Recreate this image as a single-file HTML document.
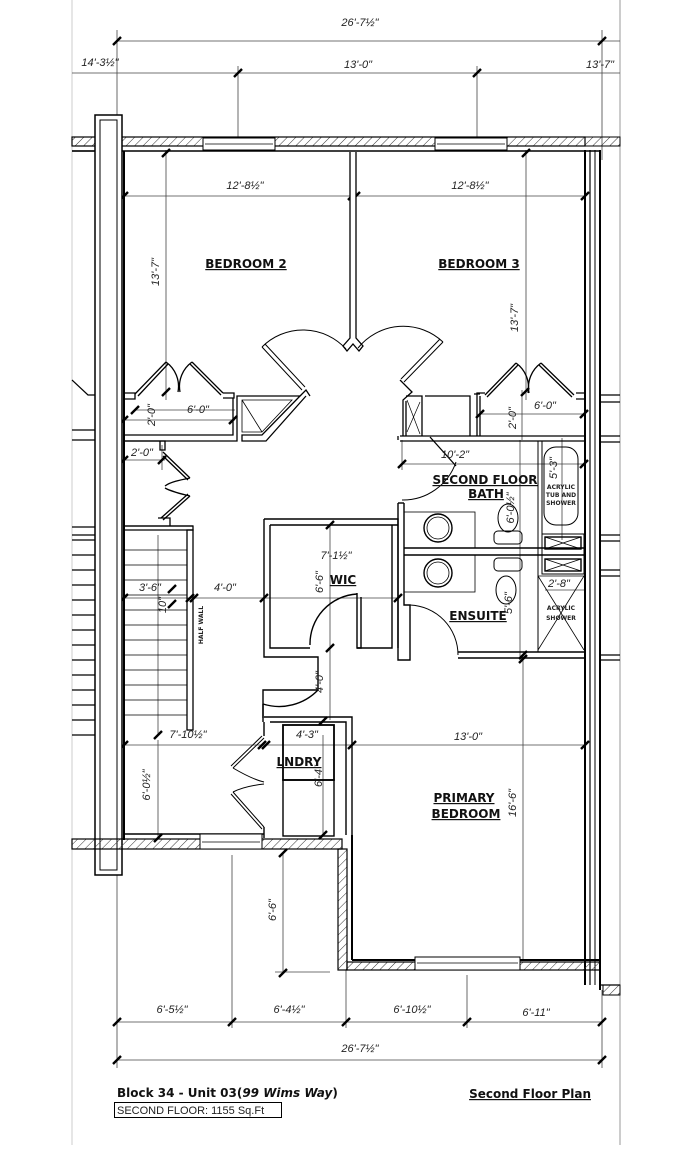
<!DOCTYPE html>
<html><head><meta charset="utf-8"><style>
html,body{margin:0;padding:0;background:#fff;}
svg{display:block;}
.d{font-family:"Liberation Sans",sans-serif;font-style:italic;font-size:11px;fill:#222;text-anchor:middle;}
.r{font-family:"DejaVu Sans","Liberation Sans",sans-serif;font-weight:bold;font-size:12px;fill:#111;text-anchor:middle;text-decoration:underline;}
.s{font-family:"DejaVu Sans","Liberation Sans",sans-serif;font-weight:bold;font-size:6px;fill:#222;text-anchor:middle;}
</style></head><body>
<svg width="698" height="1158" viewBox="0 0 698 1158" xmlns="http://www.w3.org/2000/svg">
<defs>
<pattern id="h" width="6" height="6" patternUnits="userSpaceOnUse" patternTransform="rotate(45)">
<line x1="0" y1="0" x2="0" y2="6" stroke="#333" stroke-width="1"/></pattern>
</defs>
<rect width="698" height="1158" fill="#fff"/>
<!-- page borders -->
<line x1="72" y1="0" x2="72" y2="1145" stroke="#ccc" stroke-width="1"/>
<line x1="620" y1="0" x2="620" y2="1145" stroke="#999" stroke-width="1"/>

<g stroke="#444" stroke-width="0.8" fill="none">
<!-- top dims -->
<line x1="117" y1="41" x2="620" y2="41"/>
<line x1="117" y1="30" x2="117" y2="150"/><line x1="602" y1="30" x2="602" y2="160"/>
<line x1="72" y1="73" x2="620" y2="73"/>
<line x1="238" y1="66" x2="238" y2="137"/><line x1="477" y1="66" x2="477" y2="137"/>
<!-- bedroom dims -->
<line x1="124" y1="196" x2="585" y2="196"/>
<line x1="166" y1="150" x2="166" y2="400"/>
<line x1="526" y1="150" x2="526" y2="400"/>
<line x1="135" y1="410" x2="235" y2="410"/><line x1="124" y1="420" x2="235" y2="420"/>
<line x1="480" y1="414" x2="584" y2="414"/><line x1="522" y1="390" x2="522" y2="440"/>
<line x1="124" y1="460" x2="165" y2="460"/><line x1="162" y1="445" x2="162" y2="470"/>
<!-- middle -->
<line x1="124" y1="598" x2="398" y2="598"/>
<line x1="158" y1="535" x2="158" y2="735"/>
<line x1="330" y1="525" x2="330" y2="720"/>
<line x1="402" y1="464" x2="584" y2="464"/>
<line x1="402" y1="440" x2="402" y2="470"/>
<line x1="520" y1="440" x2="520" y2="660"/>
<line x1="562" y1="438" x2="562" y2="540"/>
<line x1="545" y1="590" x2="584" y2="590"/>
<!-- lower -->
<line x1="124" y1="745" x2="585" y2="745"/>
<line x1="158" y1="740" x2="158" y2="838"/>
<line x1="523" y1="655" x2="523" y2="960"/>
<line x1="323" y1="735" x2="323" y2="835"/>
<line x1="283" y1="853" x2="283" y2="972"/><line x1="275" y1="972" x2="330" y2="972"/>
<!-- bottom dims -->
<line x1="117" y1="1022" x2="602" y2="1022"/>
<line x1="117" y1="1060" x2="602" y2="1060"/>
<line x1="117" y1="870" x2="117" y2="1068"/><line x1="602" y1="990" x2="602" y2="1068"/>
<line x1="232" y1="855" x2="232" y2="1028"/><line x1="346" y1="970" x2="346" y2="1028"/>
<line x1="467" y1="975" x2="467" y2="1028"/>
</g>
<!-- ticks -->
<g stroke="#000" stroke-width="2.4">
<path d="M113 45L121 37M598 45L606 37M234 77L242 69M473 77L481 69
M120 200L128 192M348 200L356 192M352 200L360 192M581 200L589 192
M162 157L170 149M522 157L530 149M162 396L170 388M521 396L529 388
M131 414L139 406M229 424L237 416M120 424L128 416M476 418L484 410M580 418L588 410
M120 464L128 456M158 464L166 456
M120 602L128 594M186 602L194 594M190 602L198 594M260 602L268 594M394 602L402 594
M326 529L334 521M326 652L334 644M398 468L406 460M580 468L588 460
M120 749L128 741M258 749L266 741M262 749L270 741M348 749L356 741M581 749L589 741
M154 739L162 731M154 842L162 834M519 659L527 651M519 663L527 655
M279 857L287 849M279 977L287 969M319 725L327 717M319 839L327 831
M113 1026L121 1018M228 1026L236 1018M342 1026L350 1018M463 1026L471 1018M598 1026L606 1018
M113 1064L121 1056M598 1064L606 1056
M168 608L176 600M168 593L176 585"/>
</g>

<!-- top exterior wall -->
<rect x="72" y="137" width="513" height="9" fill="url(#h)" stroke="#000" stroke-width="1.2"/>
<line x1="72" y1="151" x2="600" y2="151" stroke="#000" stroke-width="1.5"/>
<rect x="203" y="138" width="72" height="12" fill="#fff" stroke="#000" stroke-width="1"/>
<line x1="205" y1="144" x2="273" y2="144" stroke="#000" stroke-width="0.8"/>
<rect x="435" y="138" width="72" height="12" fill="#fff" stroke="#000" stroke-width="1"/>
<line x1="437" y1="144" x2="505" y2="144" stroke="#000" stroke-width="0.8"/>
<rect x="585" y="137" width="35" height="9" fill="url(#h)" stroke="#000" stroke-width="1"/>

<!-- left column -->
<rect x="95" y="115" width="27" height="760" fill="#fff" stroke="#000" stroke-width="1.5"/>
<rect x="100" y="120" width="17" height="750" fill="none" stroke="#000" stroke-width="1"/>
<line x1="124" y1="151" x2="124" y2="840" stroke="#000" stroke-width="2"/>
<g stroke="#000" stroke-width="1.2" fill="none">
<path d="M72 151H95M72 430H95M72 440H95M72 527H95M72 535H95M72 380L88 395H95"/>
<path d="M72 540H95M72 555H95M72 570H95M72 585H95M72 600H95M72 615H95M72 630H95M72 645H95M72 660H95M72 675H95M72 690H95M72 705H95M72 720H95M72 735H95"/>
</g>

<!-- right wall -->
<g stroke="#000" fill="none">
<line x1="585" y1="150" x2="585" y2="985" stroke-width="2"/>
<line x1="590" y1="150" x2="590" y2="985" stroke-width="1.2"/>
<line x1="595" y1="150" x2="595" y2="985" stroke-width="1"/>
<line x1="600" y1="150" x2="600" y2="990" stroke-width="2"/>
<path d="M600 395H620M600 402H620M600 436H620M600 442H620M600 535H620M600 541H620M600 570H620M600 576H620M600 655H620M600 660H620M600 985H620" stroke-width="1.2"/>
<rect x="603" y="985" width="17" height="10" fill="url(#h)" stroke-width="1"/>
</g>

<!-- bedroom divider -->
<path d="M350 152V338L343 346L347 351L353 344L359 351L363 346L356 338V152" fill="#fff" stroke="#000" stroke-width="1.3"/>
<!-- bedroom doors -->
<g stroke="#000" stroke-width="1" fill="none">
<path d="M262 347L302 390M265 344L305 387"/>
<path d="M262 347A58 58 0 0 1 346 349"/>
<path d="M443 342L404 382M440 339L401 379"/>
<path d="M443 342A58 58 0 0 0 358 348"/>
</g>

<!-- bed2 closet -->
<g stroke="#000" stroke-width="1.3" fill="none">
<path d="M124 393H135V399H124"/>
<path d="M135 394L166 362M138 396L168 364"/>
<path d="M166 362A30 30 0 0 1 178 392"/>
<path d="M192 362A30 30 0 0 0 180 392"/>
<path d="M192 362L223 393M190 364L221 395"/>
<path d="M223 393H234V398H223"/>
<path d="M124 435H233V398M124 441H237V396H300L262 435H242V441H266L306 396"/>
<path d="M300 396L306 390L310 396"/>
<path d="M242 400H292L262 432H242Z M242 400L262 432" stroke-width="0.8"/>
<path d="M124 441H165V450H160V441"/>
<!-- hall closet bifold -->
<path d="M163 452L190 478M163 456L188 480"/>
<path d="M190 478C180 480 170 482 165 486"/>
<path d="M165 488C172 492 182 494 190 496"/>
<path d="M190 496L163 520M188 494L161 518"/>
<path d="M158 518H170V526H124M170 526H193"/>
</g>

<!-- bed3 closet & bath closet -->
<g stroke="#000" stroke-width="1.3" fill="none">
<path d="M485 395L516 363M487 397L518 365"/>
<path d="M516 363A30 30 0 0 1 528 393"/>
<path d="M541 363A30 30 0 0 0 529 393"/>
<path d="M541 363L574 395M539 365L572 397"/>
<path d="M576 393H585V399H576"/>
<path d="M485 393H477V436M480 396V436"/>
<path d="M400 436H585M400 441H585"/>
<path d="M400 380L412 392L403 400V436M406 401V436"/>
<path d="M406 396H422V436M425 396H470V436M474 394H480"/>
<path d="M407 400L420 434M407 432L420 402" stroke-width="0.7"/>
<path d="M430 437L456 466"/>
<path d="M398 436V440"/>
</g>

<!-- stair -->
<g stroke="#000" fill="none">
<path d="M124 526H193V530H124" stroke-width="1.3"/>
<rect x="187" y="530" width="6" height="200" stroke-width="1.3"/>
<path d="M124 550H187M124 565H187M124 580H187M124 595H187M124 610H187M124 625H187M124 640H187M124 655H187M124 670H187M124 685H187M124 700H187M124 715H187" stroke-width="0.8"/>
</g>

<!-- WIC -->
<g stroke="#000" stroke-width="1.4" fill="none">
<path d="M264 519H398V648M270 525H398"/>
<path d="M264 519V657H318V690H263V722M270 525V648H310M357 648H392V525"/>
<path d="M357 593V648H361V597"/>
<path d="M310 645A50 50 0 0 1 357 594"/>
<path d="M263 704A54 54 0 0 0 318 690"/>
<path d="M263 704V718"/>
</g>

<!-- bath -->
<g stroke="#000" stroke-width="1.4" fill="none">
<path d="M398 503V660H410V605H404V503"/>
<path d="M404 503H398"/>
<path d="M402 500A56 56 0 0 0 456 462" stroke-width="1"/>
<path d="M410 605A50 50 0 0 1 458 655" stroke-width="1"/>
<path d="M458 652H585M458 658H585"/>
<path d="M404 548H585M404 555H585"/>
<rect x="404" y="512" width="71" height="36" stroke-width="0.8"/>
<rect x="404" y="555" width="71" height="37" stroke-width="0.8"/>
<circle cx="438" cy="528" r="14"/><circle cx="438" cy="528" r="11" stroke-width="0.8"/>
<circle cx="438" cy="573" r="14"/><circle cx="438" cy="573" r="11" stroke-width="0.8"/>
<ellipse cx="508" cy="518" rx="10" ry="14" stroke-width="1"/>
<rect x="494" y="531" width="28" height="13" rx="4" stroke-width="1"/>
<rect x="494" y="558" width="28" height="13" rx="4" stroke-width="1"/>
<ellipse cx="506" cy="590" rx="10" ry="14" stroke-width="1"/>
<path d="M538 441V652M542 441V535" stroke-width="1"/>
<rect x="544" y="447" width="34" height="78" rx="12" stroke-width="1"/>
<rect x="542" y="534" width="42" height="40" stroke-width="1"/>
<rect x="545" y="537" width="36" height="12"/><rect x="545" y="559" width="36" height="12"/>
<path d="M545 537L581 549M581 537L545 549M545 559L581 571M581 559L545 571" stroke-width="0.8"/>
<path d="M538 576H584M538 576L584 650M584 576L538 650" stroke-width="0.8"/>
</g>

<!-- laundry -->
<g stroke="#000" stroke-width="1.4" fill="none">
<path d="M264 717H352V845M270 722H346V835M264 722V736M264 827V838"/>
<rect x="283" y="725" width="51" height="55" stroke-width="1.8"/>
<rect x="283" y="780" width="51" height="56" stroke-width="1.4"/>
<path d="M264 738L233 768M262 736L231 766" stroke-width="1"/>
<path d="M233 768C245 775 255 780 264 782" stroke-width="1"/>
<path d="M233 792L264 827M231 794L262 829" stroke-width="1"/>
<path d="M233 792C243 787 255 785 264 784" stroke-width="1"/>
</g>

<!-- lower exterior walls -->
<rect x="72" y="839" width="270" height="10" fill="url(#h)" stroke="#000" stroke-width="1.2"/>
<line x1="124" y1="834" x2="264" y2="834" stroke="#000" stroke-width="1.5"/>
<rect x="200" y="834" width="62" height="15" fill="#fff" stroke="#000" stroke-width="1"/>
<line x1="202" y1="842" x2="260" y2="842" stroke="#000" stroke-width="0.8"/>
<rect x="338" y="849" width="9" height="121" fill="url(#h)" stroke="#000" stroke-width="1.2"/>
<line x1="352" y1="835" x2="352" y2="960" stroke="#000" stroke-width="2"/>
<line x1="352" y1="960" x2="600" y2="960" stroke="#000" stroke-width="2"/>
<rect x="347" y="962" width="253" height="8" fill="url(#h)" stroke="#000" stroke-width="1.2"/>
<rect x="415" y="957" width="105" height="13" fill="#fff" stroke="#000" stroke-width="1"/>
<line x1="417" y1="963" x2="518" y2="963" stroke="#000" stroke-width="0.8"/>

<!-- dimension text -->
<text class="d" x="360" y="26">26'-7½"</text>
<text class="d" x="100" y="66">14'-3½"</text>
<text class="d" x="358" y="68">13'-0"</text>
<text class="d" x="600" y="68">13'-7"</text>
<text class="d" x="245" y="189">12'-8½"</text>
<text class="d" x="470" y="189">12'-8½"</text>
<text class="d" transform="translate(159,272) rotate(-90)">13'-7"</text>
<text class="d" transform="translate(518,318) rotate(-90)">13'-7"</text>
<text class="d" x="198" y="413">6'-0"</text>
<text class="d" transform="translate(155,415) rotate(-90)">2'-0"</text>
<text class="d" x="142" y="456">2'-0"</text>
<text class="d" x="545" y="409">6'-0"</text>
<text class="d" transform="translate(516,418) rotate(-90)">2'-0"</text>
<text class="d" x="455" y="458">10'-2"</text>
<text class="d" transform="translate(557,468) rotate(-90)">5'-3"</text>
<text class="d" transform="translate(514,508) rotate(-90)">6'-0½"</text>
<text class="d" transform="translate(512,603) rotate(-90)">5'-6"</text>
<text class="d" x="559" y="587">2'-8"</text>
<text class="d" x="150" y="591">3'-6"</text>
<text class="d" x="225" y="591">4'-0"</text>
<text class="d" x="336" y="559">7'-1½"</text>
<text class="d" transform="translate(323,582) rotate(-90)">6'-6"</text>
<text class="d" transform="translate(166,605) rotate(-90)">10"</text>
<text class="d" transform="translate(323,682) rotate(-90)">4'-0"</text>
<text class="d" x="188" y="738">7'-10½"</text>
<text class="d" x="307" y="738">4'-3"</text>
<text class="d" transform="translate(322,776) rotate(-90)">6'-4"</text>
<text class="d" x="468" y="740">13'-0"</text>
<text class="d" transform="translate(150,785) rotate(-90)">6'-0½"</text>
<text class="d" transform="translate(516,803) rotate(-90)">16'-6"</text>
<text class="d" transform="translate(276,910) rotate(-90)">6'-6"</text>
<text class="d" x="172" y="1058" style="display:none"></text>
<text class="d" x="172" y="1013">6'-5½"</text>
<text class="d" x="289" y="1013">6'-4½"</text>
<text class="d" x="412" y="1013">6'-10½"</text>
<text class="d" x="536" y="1016">6'-11"</text>
<text class="d" x="360" y="1052">26'-7½"</text>

<!-- room labels -->
<text class="r" x="246" y="268">BEDROOM 2</text>
<text class="r" x="479" y="268">BEDROOM 3</text>
<text class="r" x="485" y="484">SECOND FLOOR</text>
<text class="r" x="486" y="498">BATH</text>
<text class="r" x="343" y="584">WIC</text>
<text class="r" x="478" y="620">ENSUITE</text>
<text class="r" x="299" y="766">LNDRY</text>
<text class="r" x="464" y="802">PRIMARY</text>
<text class="r" x="466" y="818">BEDROOM</text>
<text class="s" x="561" y="489">ACRYLIC</text>
<text class="s" x="561" y="497">TUB AND</text>
<text class="s" x="561" y="505">SHOWER</text>
<text class="s" x="561" y="610">ACRYLIC</text>
<text class="s" x="561" y="620">SHOWER</text>
<text class="s" transform="translate(203,625) rotate(-90)">HALF WALL</text>

<!-- title -->
<text x="117" y="1097" style="font-family:'DejaVu Sans','Liberation Sans',sans-serif;font-weight:bold;font-size:12px;fill:#111">Block 34 - Unit 03(<tspan font-style="italic">99 Wims Way</tspan>)</text>
<rect x="114.5" y="1102.5" width="167" height="15" fill="none" stroke="#000" stroke-width="1"/>
<text x="117" y="1114" style="font-family:'Liberation Sans',sans-serif;font-size:11px;fill:#222">SECOND FLOOR: 1155 Sq.Ft</text>
<text x="591" y="1098" text-anchor="end" style="font-family:'DejaVu Sans','Liberation Sans',sans-serif;font-weight:bold;font-size:12px;fill:#111;text-decoration:underline">Second Floor Plan</text>
</svg>
</body></html>
